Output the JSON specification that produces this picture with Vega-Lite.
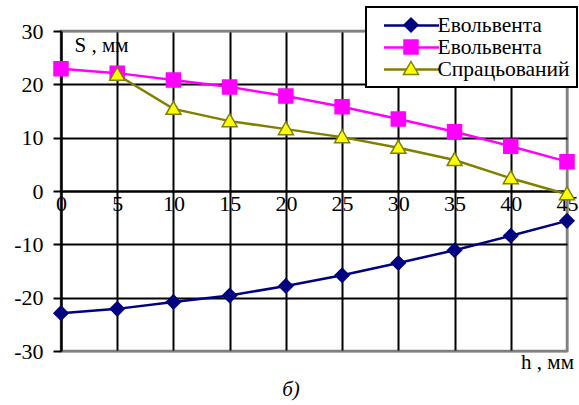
{
  "$schema": "https://vega.github.io/schema/vega-lite/v6.json",
  "width": 506,
  "height": 320,
  "autosize": {"type": "none"},
  "padding": {"left": 61, "top": 31, "right": 12, "bottom": 54},
  "background": "white",
  "config": {
    "view": {"stroke": "#808080", "strokeWidth": 2.5},
    "font": "Liberation Serif",
    "legend": {"strokeWidth": 2}
  },
  "title": {
    "text": "б)",
    "orient": "bottom",
    "anchor": "middle",
    "font": "Liberation Serif",
    "fontSize": 21,
    "fontStyle": "italic",
    "fontWeight": "normal",
    "color": "black",
    "offset": 7,
    "dx": -23
  },
  "data": {
    "values": [
      {"h": 0, "s": -22.9, "series": "a"},
      {"h": 5, "s": -22.1, "series": "a"},
      {"h": 10, "s": -20.8, "series": "a"},
      {"h": 15, "s": -19.6, "series": "a"},
      {"h": 20, "s": -17.8, "series": "a"},
      {"h": 25, "s": -15.8, "series": "a"},
      {"h": 30, "s": -13.5, "series": "a"},
      {"h": 35, "s": -11.1, "series": "a"},
      {"h": 40, "s": -8.4, "series": "a"},
      {"h": 45, "s": -5.6, "series": "a"},
      {"h": 0, "s": 22.9, "series": "b"},
      {"h": 5, "s": 22.1, "series": "b"},
      {"h": 10, "s": 20.8, "series": "b"},
      {"h": 15, "s": 19.5, "series": "b"},
      {"h": 20, "s": 17.8, "series": "b"},
      {"h": 25, "s": 15.8, "series": "b"},
      {"h": 30, "s": 13.5, "series": "b"},
      {"h": 35, "s": 11.1, "series": "b"},
      {"h": 40, "s": 8.4, "series": "b"},
      {"h": 45, "s": 5.5, "series": "b"},
      {"h": 5, "s": 21.8, "series": "c"},
      {"h": 10, "s": 15.4, "series": "c"},
      {"h": 15, "s": 13.1, "series": "c"},
      {"h": 20, "s": 11.6, "series": "c"},
      {"h": 25, "s": 10.1, "series": "c"},
      {"h": 30, "s": 8.1, "series": "c"},
      {"h": 35, "s": 5.8, "series": "c"},
      {"h": 40, "s": 2.4, "series": "c"},
      {"h": 45, "s": -0.6, "series": "c"}
    ]
  },
  "encoding": {
    "x": {
      "field": "h",
      "type": "quantitative",
      "scale": {"domain": [0, 45], "nice": false, "zero": false},
      "axis": {
        "orient": "bottom",
        "offset": -160,
        "values": [0, 5, 10, 15, 20, 25, 30, 35, 40, 45],
        "grid": true,
        "gridColor": {"condition": {"test": "datum.value == 45", "value": "#808080"}, "value": "black"},
        "gridWidth": 2,
        "gridOpacity": 1,
        "domain": true,
        "domainColor": "black",
        "domainWidth": 2,
        "ticks": false,
        "labelFont": "Liberation Serif",
        "labelFontSize": 22,
        "labelColor": "black",
        "labelPadding": 2,
        "labelFlush": false,
        "labelOverlap": false,
        "title": "h , мм",
        "titleFont": "Liberation Serif",
        "titleFontSize": 21,
        "titleFontWeight": "normal",
        "titleColor": "black",
        "titleX": 486,
        "titleY": 171,
        "titleAlign": "center",
        "titleBaseline": "middle",
        "titleAngle": 0
      }
    },
    "y": {
      "field": "s",
      "type": "quantitative",
      "scale": {"domain": [-30, 30], "nice": false, "zero": false},
      "axis": {
        "orient": "left",
        "values": [-30, -20, -10, 0, 10, 20, 30],
        "grid": true,
        "gridColor": {"condition": {"test": "abs(datum.value) == 30", "value": "#808080"}, "value": "black"},
        "gridWidth": 2,
        "gridOpacity": 1,
        "domainColor": "black",
        "domainWidth": 2,
        "tickColor": "black",
        "tickWidth": 2,
        "tickSize": 8,
        "labelPadding": 10,
        "labelFont": "Liberation Serif",
        "labelFontSize": 22,
        "labelColor": "black",
        "labelExpr": "'' + datum.value",
        "labelFlush": false,
        "labelOverlap": false,
        "title": "S , мм",
        "titleFont": "Liberation Serif",
        "titleFontSize": 21,
        "titleFontWeight": "normal",
        "titleColor": "black",
        "titleAngle": 0,
        "titleX": 40,
        "titleY": 14,
        "titleAlign": "center",
        "titleBaseline": "middle"
      }
    }
  },
  "layer": [
    {
      "mark": {"type": "line", "strokeWidth": 2.5},
      "encoding": {
        "color": {
          "field": "series",
          "type": "nominal",
          "scale": {"domain": ["a", "b", "c"], "range": ["#000080", "#FF00FF", "#808000"]},
          "legend": {
            "orient": "none",
            "legendX": 305,
            "legendY": -24,
            "direction": "vertical",
            "title": null,
            "symbolType": "M-3.4,0M-2.75,0H2.75",
            "symbolSize": 400,
            "symbolStrokeWidth": 2.5,
            "labelFont": "Liberation Serif",
            "labelFontSize": 21.5,
            "labelColor": "black",
            "labelOffset": 14.5,
            "labelExpr": "datum.label == 'c' ? 'Спрацьований' : 'Евольвента'",
            "rowPadding": 0,
            "padding": 7,
            "fillColor": "white",
            "strokeColor": "black",
            "symbolOffset": 27,
            "zindex": 1
          }
        }
      }
    },
    {
      "mark": {"type": "point", "filled": true, "size": 400, "strokeWidth": 1.5, "opacity": 1},
      "encoding": {
        "shape": {
          "field": "series",
          "type": "nominal",
          "scale": {"range": ["M0,-0.7L0.7,0L0,0.7L-0.7,0Z", "M-0.7,-0.7H0.7V0.7H-0.7Z", "M0,-0.75L0.75,0.55L-0.75,0.55Z"]},
          "legend": {
            "orient": "none",
            "legendX": 305,
            "legendY": -24,
            "direction": "vertical",
            "title": null,
            "symbolSize": 400,
            "symbolStrokeWidth": 1.5,
            "labelFont": "Liberation Serif",
            "labelFontSize": 21.5,
            "labelColor": "transparent",
            "labelOffset": 14.5,
            "labelExpr": "''",
            "rowPadding": 0,
            "padding": 7,
            "strokeColor": "transparent",
            "symbolOffset": 27,
            "zindex": 2
          }
        },
        "fill": {
          "field": "series",
          "type": "nominal",
          "scale": {"range": ["#000080", "#FF00FF", "#FFFF00"]},
          "legend": {
            "orient": "none",
            "legendX": 305,
            "legendY": -24,
            "title": null,
            "symbolSize": 400,
            "labelColor": "transparent",
            "labelFontSize": 21.5,
            "labelOffset": 14.5,
            "labelExpr": "''",
            "rowPadding": 0,
            "padding": 7,
            "strokeColor": "transparent",
            "symbolOffset": 27,
            "zindex": 2
          }
        },
        "stroke": {
          "field": "series",
          "type": "nominal",
          "scale": {"range": ["#000080", "#FF00FF", "#808000"]},
          "legend": {
            "orient": "none",
            "legendX": 305,
            "legendY": -24,
            "title": null,
            "symbolSize": 400,
            "labelColor": "transparent",
            "labelFontSize": 21.5,
            "labelOffset": 14.5,
            "labelExpr": "''",
            "rowPadding": 0,
            "padding": 7,
            "strokeColor": "transparent",
            "symbolOffset": 27,
            "zindex": 2
          }
        }
      }
    }
  ]
}
